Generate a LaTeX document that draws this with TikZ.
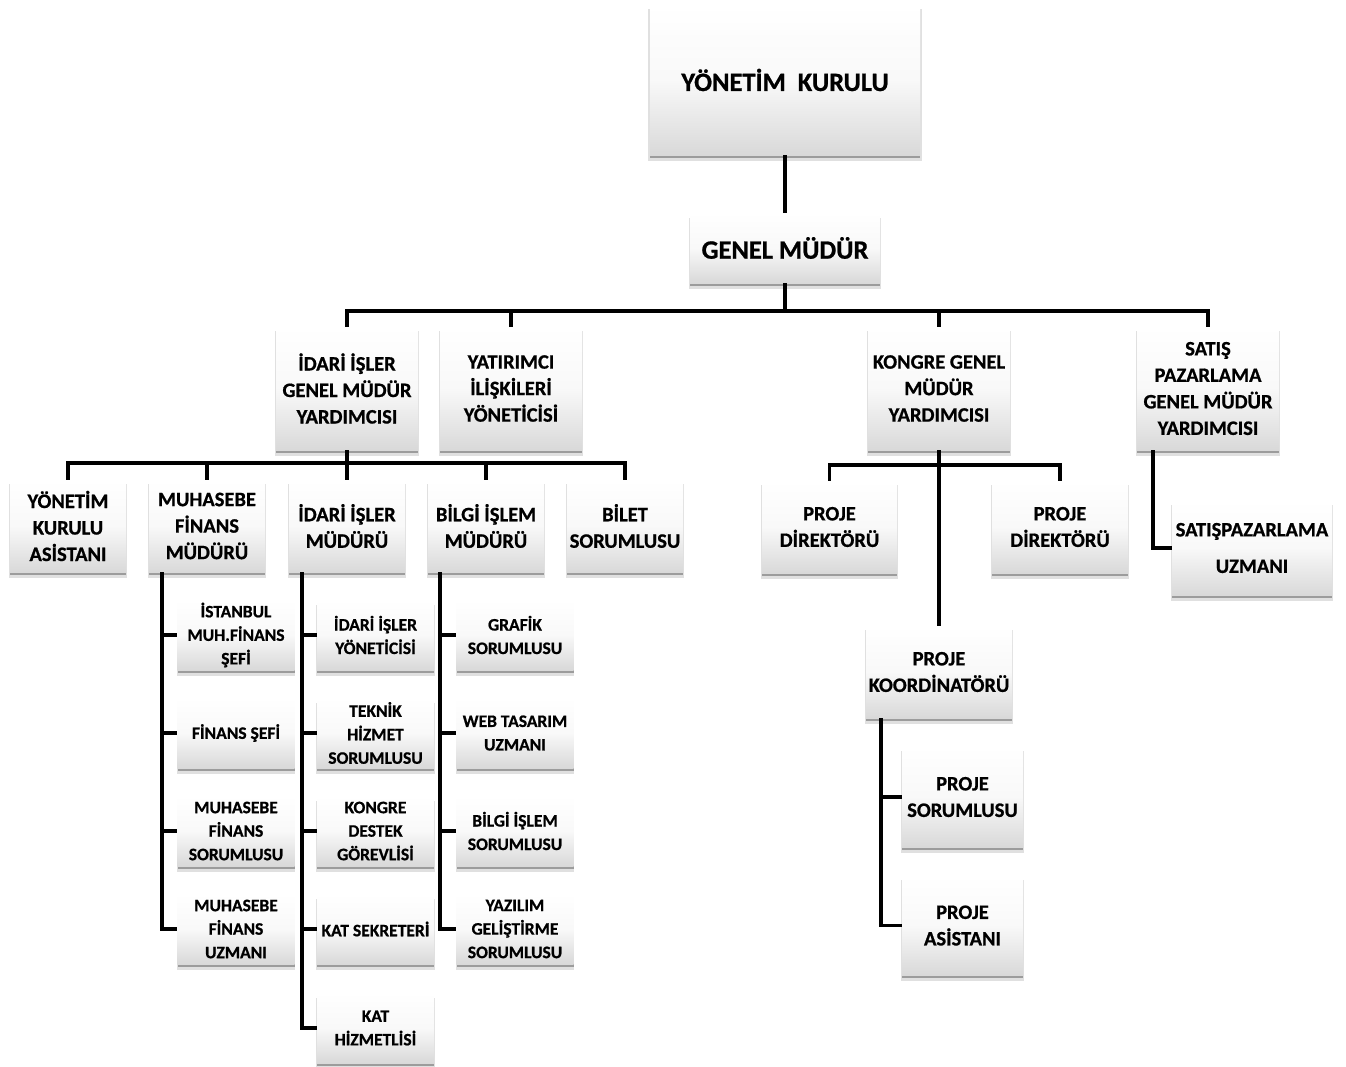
\documentclass[tikz,border=0pt]{standalone}
\usepackage{fontspec}
\setmainfont{Carlito}[BoldFeatures={FakeBold=0.8}]
\usetikzlibrary{shadows}
\begin{document}
\begin{tikzpicture}[x=1pt,y=1pt,
  box/.style={shade, top color=white, bottom color=gray!30, middle color=gray!5,
    drop shadow={shadow xshift=0pt, shadow yshift=-5pt, shadow scale=1.015, fill=black, opacity=0.12},
    drop shadow={shadow xshift=0pt, shadow yshift=-3pt, fill=black, opacity=0.3},
    inner sep=0pt, align=center, text=black},
  big/.style={box, font=\fontsize{26.5}{32}\selectfont\bfseries},
  mid/.style={box, font=\fontsize{20.5}{26.5}\selectfont\bfseries},
  small/.style={box, font=\fontsize{17.5}{23.5}\selectfont\bfseries, minimum width=117pt, minimum height=70pt},
  lthree/.style={mid, minimum width=116pt, minimum height=92pt},
  ltwo/.style={mid, minimum width=142pt, minimum height=123pt},
  conn/.style={draw=black, line width=3.5pt}]
\useasboundingbox (0,-1066) rectangle (1346,0);

% top
\node[big, minimum width=270pt, minimum height=150pt] (yk) at (785,-80) {YÖNETİM\ \ KURULU};
\node[big, minimum width=190pt, minimum height=70pt] (gm) at (785,-248) {GENEL MÜDÜR};

% level 2
\node[ltwo] (l2a) at (347,-388.5) {İDARİ İŞLER\\GENEL MÜDÜR\\YARDIMCISI};
\node[ltwo] (l2b) at (511,-388.5) {YATIRIMCI\\İLİŞKİLERİ\\YÖNETİCİSİ};
\node[ltwo] (l2c) at (939,-388.5) {KONGRE GENEL\\MÜDÜR\\YARDIMCISI};
\node[ltwo] (l2d) at (1208,-388.5) {SATIŞ\\PAZARLAMA\\GENEL MÜDÜR\\YARDIMCISI};

% level 3 (idari)
\node[lthree] (l3a) at (68,-526) {YÖNETİM\\KURULU\\ASİSTANI};
\node[lthree] (l3b) at (207,-526) {MUHASEBE\\FİNANS\\MÜDÜRÜ};
\node[lthree] (l3c) at (347,-526) {İDARİ İŞLER\\MÜDÜRÜ};
\node[lthree] (l3d) at (486,-526) {BİLGİ İŞLEM\\MÜDÜRÜ};
\node[lthree] (l3e) at (625,-526) {BİLET\\SORUMLUSU};

% muhasebe children
\node[small] (m1) at (236,-635) {İSTANBUL\\MUH.FİNANS\\ŞEFİ};
\node[small] (m2) at (236,-733) {FİNANS ŞEFİ};
\node[small] (m3) at (236,-831) {MUHASEBE\\FİNANS\\SORUMLUSU};
\node[small] (m4) at (236,-929) {MUHASEBE\\FİNANS\\UZMANI};

% idari isler children
\node[small] (i1) at (375.5,-635) {İDARİ İŞLER\\YÖNETİCİSİ};
\node[small] (i2) at (375.5,-733) {TEKNİK\\HİZMET\\SORUMLUSU};
\node[small] (i3) at (375.5,-831) {KONGRE\\DESTEK\\GÖREVLİSİ};
\node[small] (i4) at (375.5,-929) {KAT SEKRETERİ};
\node[small] (i5) at (375.5,-1028) {KAT\\HİZMETLİSİ};

% bilgi islem children
\node[small] (b1) at (515,-635) {GRAFİK\\SORUMLUSU};
\node[small] (b2) at (515,-733) {WEB TASARIM\\UZMANI};
\node[small] (b3) at (515,-831) {BİLGİ İŞLEM\\SORUMLUSU};
\node[small] (b4) at (515,-929) {YAZILIM\\GELİŞTİRME\\SORUMLUSU};

% kongre branch
\node[mid, minimum width=135pt, minimum height=92pt] (pd1) at (829.5,-527) {PROJE\\DİREKTÖRÜ};
\node[mid, minimum width=136pt, minimum height=92pt] (pd2) at (1060,-527) {PROJE\\DİREKTÖRÜ};
\node[mid, minimum width=146pt, minimum height=92pt] (pk) at (939,-672) {PROJE\\KOORDİNATÖRÜ};
\node[mid, minimum width=121pt, minimum height=100pt] (ps) at (962.5,-797) {PROJE\\SORUMLUSU};
\node[mid, minimum width=121pt, minimum height=99pt] (pa) at (962.5,-925.5) {PROJE\\ASİSTANI};

% satis branch
\node[mid, minimum width=160pt, minimum height=94pt] (spu) at (1252,-548) {SATIŞPAZARLAMA\\[10pt]UZMANI};

% connectors
\coordinate (bus1) at (785,-311);
\coordinate (bus2) at (347,-463);
\coordinate (bus3) at (939,-465);
\draw[conn] (yk) -- (gm);
\draw[conn] (gm.south) -- (bus1);
\foreach \n in {l2a,l2b,l2c,l2d} \draw[conn] (\n.north) |- (bus1);
\draw[conn] (l2a.south) -- (bus2);
\foreach \n in {l3a,l3b,l3c,l3d,l3e} \draw[conn] (\n.north) |- (bus2);
\foreach \n in {m1,m2,m3,m4} \draw[conn] ([xshift=13pt]l3b.south west) |- (\n.west);
\foreach \n in {i1,i2,i3,i4,i5} \draw[conn] ([xshift=13pt]l3c.south west) |- (\n.west);
\foreach \n in {b1,b2,b3,b4} \draw[conn] ([xshift=12pt]l3d.south west) |- (\n.west);
\draw[conn] (l2c.south) -- (pk.north);
\draw[conn] (pd1.north) |- (bus3);
\draw[conn] (pd2.north) |- (bus3);
\foreach \n in {ps,pa} \draw[conn] ([xshift=15pt]pk.south west) |- (\n.west);
\draw[conn] ([xshift=16pt]l2d.south west) |- (spu.west);
\end{tikzpicture}
\end{document}
